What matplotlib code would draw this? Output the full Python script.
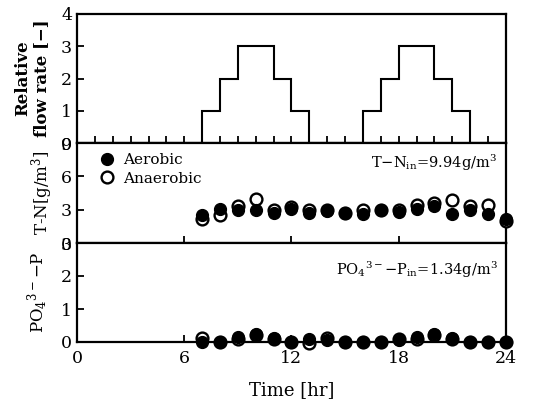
import matplotlib
matplotlib.use("Agg")
import matplotlib.pyplot as plt
import numpy as np

plt.rcParams['font.family'] = ['DejaVu Serif']
plt.rcParams['mathtext.fontset'] = 'dejavuserif'

# Flow rate step profile (hour edges and levels)
flow_edges = [0, 7, 8, 9, 11, 12, 13, 16, 17, 18, 20, 21, 22, 24]
flow_levels = [0, 1, 2, 3, 2, 1, 0, 1, 2, 3, 2, 1, 0]

hours = list(range(7, 25))
tn_aerobic = [2.5, 3.1, 3.0, 3.0, 2.7, 3.1, 2.7, 2.9, 2.7, 2.6, 3.0, 2.8, 3.1, 3.3, 2.6, 3.0, 2.6, 2.2]
tn_anaerobic = [2.2, 2.5, 3.3, 4.0, 3.0, 3.2, 3.0, 3.0, 2.7, 3.0, 3.0, 3.0, 3.4, 3.6, 3.9, 3.3, 3.4, 2.0]
po4_aerobic = [0.0, 0.0, 0.15, 0.23, 0.13, 0.0, 0.1, 0.05, 0.0, 0.0, 0.0, 0.05, 0.15, 0.23, 0.13, 0.0, 0.0, 0.0]
po4_anaerobic = [0.13, 0.0, 0.1, 0.2, 0.1, 0.0, -0.04, 0.12, 0.0, 0.0, 0.0, 0.08, 0.1, 0.2, 0.1, 0.0, 0.0, 0.0]

W, H = 551, 408
fig = plt.figure(figsize=(W/100, H/100), dpi=100)

L, R = 77/W, 506/W
def yf(p):
    return 1 - p/H
ax1 = fig.add_axes([L, yf(143), R-L, yf(14)-yf(143)])
ax2 = fig.add_axes([L, yf(243), R-L, yf(143)-yf(243)])
ax3 = fig.add_axes([L, yf(342), R-L, yf(243)-yf(342)])

lw = 1.6
for ax in (ax1, ax2, ax3):
    for s in ax.spines.values():
        s.set_linewidth(lw)
    ax.set_xlim(0, 24)
    ax.tick_params(direction='in', width=1.3, length=5, labelsize=12.5)

# Top panel
ax1.stairs(flow_levels, flow_edges, color='black', lw=1.5)
ax1.set_ylim(0, 4)
ax1.set_yticks([0, 1, 2, 3, 4])
ax1.set_xticks(range(1, 24))
ax1.tick_params(axis='x', labelbottom=False, length=5)
ax1.set_ylabel('Relative\nflow rate [−]', fontsize=12, fontweight='bold', linespacing=1.1, labelpad=8)

# Middle panel
ms = 8.5
ax2.plot(hours, tn_anaerobic, 'o', mfc='white', mec='black', mew=1.7, ms=ms, clip_on=False, zorder=3, label='Anaerobic')
ax2.plot(hours, tn_aerobic, 'o', mfc='black', mec='black', ms=ms, clip_on=False, zorder=4, label='Aerobic')
ax2.set_ylim(0, 9)
ax2.set_yticks([0, 3, 6, 9])
ax2.set_xticks([6, 12, 18])
ax2.tick_params(axis='x', labelbottom=False)
ax2.set_ylabel('T-N[g/m$^3$]', fontsize=12, labelpad=4)
h, l = ax2.get_legend_handles_labels()
ax2.legend([h[1], h[0]], [l[1], l[0]], loc='upper left', frameon=False, fontsize=11,
           handletextpad=0.6, borderaxespad=0.2, labelspacing=0.3, handlelength=1.0,
           bbox_to_anchor=(0.03, 0.99))
ax2.text(0.98, 0.80, 'T−N$_\\mathrm{in}$=9.94g/m$^3$', transform=ax2.transAxes, ha='right', va='center', fontsize=10.5)

# Bottom panel
ax3.plot(hours, po4_anaerobic, 'o', mfc='white', mec='black', mew=1.7, ms=ms, clip_on=False, zorder=3)
ax3.plot(hours, po4_aerobic, 'o', mfc='black', mec='black', ms=ms, clip_on=False, zorder=4)
ax3.set_ylim(0, 3)
ax3.set_yticks([0, 1, 2, 3])
ax3.set_xticks([0, 6, 12, 18, 24])
ax3.tick_params(axis='x', pad=6)
ax3.set_ylabel('PO$_4$$^{3-}$−P', fontsize=12, labelpad=8)
ax3.text(0.98, 0.73, 'PO$_4$$^{3-}$−P$_\\mathrm{in}$=1.34g/m$^3$', transform=ax3.transAxes, ha='right', va='center', fontsize=10.5)
ax3.set_xlabel('Time [hr]', fontsize=13, labelpad=10)

fig.savefig('out.png', dpi=100)
